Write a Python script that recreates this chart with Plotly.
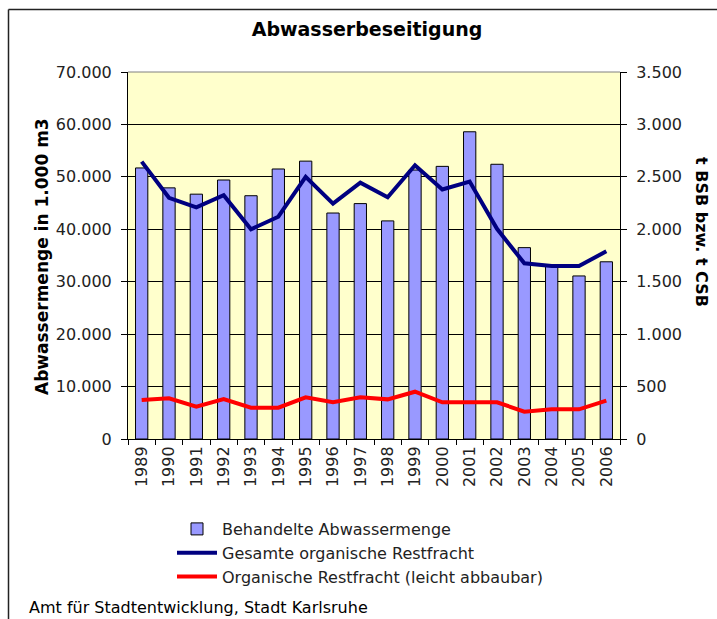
import plotly.graph_objects as go

years = [str(y) for y in range(1989, 2007)]
abwassermenge = [51700, 47900, 46700, 49400, 46400, 51500, 53000, 43100, 44900,
                 41600, 51300, 52000, 58600, 52400, 36500, 32900, 31100, 33800]
gesamt_restfracht = [2645, 2300, 2210, 2325, 2000, 2120, 2500, 2245, 2445,
                     2305, 2610, 2380, 2455, 2005, 1675, 1650, 1650, 1790]
org_restfracht = [372, 388, 308, 381, 299, 299, 397, 350, 397,
                  378, 451, 350, 350, 350, 261, 283, 283, 366]

left_ticks = [0, 10000, 20000, 30000, 40000, 50000, 60000, 70000]
right_ticks = [0, 500, 1000, 1500, 2000, 2500, 3000, 3500]

FONT = "DejaVu Sans"

W, H = 717, 619
L, R, T, B = 128, 97, 72, 180
pw, ph = W - L - R, H - T - B


def px(x):
    return (x - L) / pw


def py(y):
    return (H - B - y) / ph


fig = go.Figure()
fig.add_trace(go.Bar(
    x=years, y=abwassermenge, name="Behandelte Abwassermenge",
    marker=dict(color="#9999FF", line=dict(color="#000000", width=1)),
    yaxis="y",
))
fig.add_trace(go.Scatter(
    x=years, y=gesamt_restfracht, name="Gesamte organische Restfracht",
    mode="lines", line=dict(color="#000080", width=4), yaxis="y2",
))
fig.add_trace(go.Scatter(
    x=years, y=org_restfracht, name="Organische Restfracht (leicht abbaubar)",
    mode="lines", line=dict(color="#FF0000", width=4), yaxis="y2",
))

fig.update_layout(
    width=W, height=H,
    margin=dict(l=L, r=R, t=T, b=B, pad=0),
    paper_bgcolor="white",
    plot_bgcolor="#FFFFCC",
    separators=",.",
    bargap=0.55,
    font=dict(family=FONT, size=16, color="#222222"),
    showlegend=True,
    legend=dict(
        x=px(172), y=py(512), xanchor="left", yanchor="top",
        font=dict(family=FONT, size=16, color="#222222"),
        bgcolor="rgba(0,0,0,0)", traceorder="normal",
        tracegroupgap=0, itemwidth=40,
    ),
    xaxis=dict(
        type="category", tickangle=-90, ticks="outside", tickson="boundaries",
        ticklen=5, tickcolor="#000000", showline=True, linecolor="#000000",
        linewidth=1, showgrid=False,
        tickfont=dict(family=FONT, size=16, color="#222222"),
    ),
    yaxis=dict(
        range=[0, 70000], tickvals=left_ticks, tickformat=",d",
        ticks="outside", ticklen=6, tickcolor="#000000",
        showline=True, linecolor="#000000", linewidth=1,
        showgrid=True, gridcolor="#000000", gridwidth=1, zeroline=False,
        ticklabelstandoff=6,
        tickfont=dict(family=FONT, size=16, color="#222222"),
    ),
    yaxis2=dict(
        range=[0, 3500], tickvals=right_ticks, tickformat=",d",
        overlaying="y", side="right",
        ticks="outside", ticklen=6, tickcolor="#000000",
        showline=True, linecolor="#000000", linewidth=1,
        showgrid=False, zeroline=False, ticklabelstandoff=6,
        tickfont=dict(family=FONT, size=16, color="#222222"),
    ),
    title=dict(
        text="<b>Abwasserbeseitigung</b>", x=0.5 + (367 - W / 2) / W,
        xanchor="center", y=(H - 29) / H, yanchor="middle",
        font=dict(family=FONT, size=19, color="#000000"),
    ),
    annotations=[
        dict(text="<b>Abwassermenge in 1.000 m3</b>", xref="paper", yref="paper",
             x=px(42), y=py(257), textangle=-90, showarrow=False,
             xanchor="center", yanchor="middle",
             font=dict(family=FONT, size=17, color="#000000")),
        dict(text="<b>t BSB bzw. t CSB</b>", xref="paper", yref="paper",
             x=px(702), y=py(232), textangle=90, showarrow=False,
             xanchor="center", yanchor="middle",
             font=dict(family=FONT, size=16, color="#000000")),
        dict(text="Amt für Stadtentwicklung, Stadt Karlsruhe", xref="paper",
             yref="paper", x=px(27), y=py(607), showarrow=False,
             xanchor="left", yanchor="middle",
             font=dict(family=FONT, size=16, color="#000000")),
    ],
    shapes=[
        dict(type="line", xref="paper", yref="paper", x0=px(8.5), x1=px(730),
             y0=py(9.5), y1=py(9.5), line=dict(color="#222222", width=1.5)),
        dict(type="line", xref="paper", yref="paper", x0=px(8.5), x1=px(8.5),
             y0=py(9.5), y1=py(640), line=dict(color="#222222", width=1.5)),
        dict(type="line", xref="paper", yref="paper", x0=0, x1=1,
             y0=1, y1=1, line=dict(color="#808080", width=1), layer="above"),
    ],
)

fig.write_html(
    "out.html",
    config={"displayModeBar": False},
    post_script="document.body.style.margin='0';document.body.style.overflow='hidden';",
)
